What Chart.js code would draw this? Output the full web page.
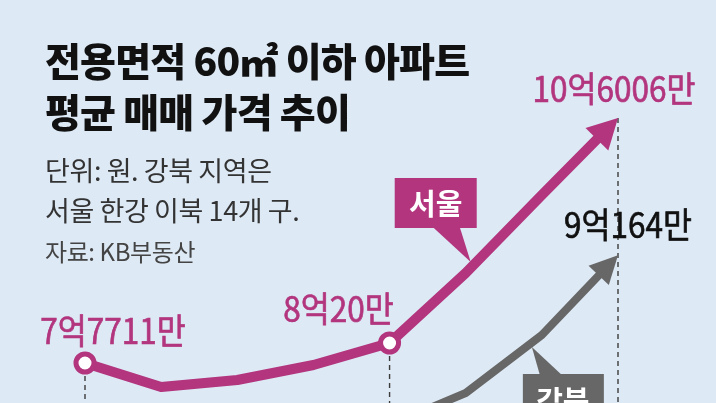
<!DOCTYPE html>
<html><head><meta charset="utf-8">
<script src="https://cdn.jsdelivr.net/npm/chart.js@4.4.1/dist/chart.umd.min.js"></script>
<style>
html,body{margin:0;padding:0;background:#dde9f5;overflow:hidden;}
#wrap{position:relative;width:716px;height:403px;background:#dde9f5;}
#chartBox{position:absolute;left:0;top:0;width:716px;height:403px;}
.t{position:absolute;left:45px;white-space:nowrap;font-family:"Noto Sans CJK KR",sans-serif;}
.h{font-size:39px;line-height:39px;font-weight:800;color:#111;letter-spacing:-0.8px;}
.s{font-size:27px;line-height:27px;color:#333;letter-spacing:-0.4px;}
.src{font-size:24px;line-height:24px;color:#444;letter-spacing:-0.4px;}
</style></head>
<body><div id="wrap">
<div id="chartBox"><canvas id="c"></canvas></div>
<div class="t h" style="top:40px">전용면적 60㎡ 이하 아파트</div>
<div class="t h" style="top:91px">평균 매매 가격 추이</div>
<div class="t s" style="top:156px">단위: 원. 강북 지역은</div>
<div class="t s" style="top:196px">서울 한강 이북 14개 구.</div>
<div class="t src" style="top:239px">자료: KB부동산</div>
</div>
<script>
// ---- data (values in 만원) ----
const periods = ['1','2','3','4','5','6','7','8'];
const seoulValues = [77711, 74940, 75748, 77480, 80020, 88104, 97111, 106006];
const gangbukValues = [68200, 67600, 68400, 69800, 70552, 74247, 80944, 90164];
const seriesNames = ['서울', '강북'];
const labeledSeoul = [0, 4, 7];
const labeledGangbuk = [7];

const SEOUL = '#b2357e';
const GRAY = '#676767';

function fmt(v){
  const eok = Math.floor(v/10000), man = v % 10000;
  return eok + '억' + man + '만';
}

const labelStyle = {
  0: {0:[28,-32], 4:[-51,-34], 7:[-4,-29]},
  1: {7:[10,-30]}
};
const headSize = {0:[30,16], 1:[28,14]};

function headGeom(chart, di){
  const pts = chart.getDatasetMeta(di).data;
  const p2 = pts[pts.length-1], p1 = pts[pts.length-2];
  let ux = p2.x-p1.x, uy = p2.y-p1.y; const len = Math.hypot(ux,uy); ux/=len; uy/=len;
  const nx = -uy, ny = ux;
  const [L,W] = headSize[di];
  return {tip:{x:p2.x,y:p2.y}, ux, uy, nx, ny, L, W};
}

const overlay = {
  id:'overlay',
  beforeDatasetsDraw(chart){
    const ctx = chart.ctx, m = chart.getDatasetMeta(0);
    ctx.save();
    ctx.setLineDash([5,4]); ctx.lineWidth = 1.4; ctx.strokeStyle = '#3c3c3c';
    labeledSeoul.forEach(i=>{
      const p = m.data[i];
      const start = (i === m.data.length-1) ? p.y : p.y + 13;
      ctx.beginPath(); ctx.moveTo(p.x, start); ctx.lineTo(p.x, chart.height); ctx.stroke();
    });
    ctx.restore();
  },
  beforeDatasetDraw(chart, args){
    const g = headGeom(chart, args.index), ctx = chart.ctx;
    const bx = g.tip.x - (g.L-3)*g.ux, by = g.tip.y - (g.L-3)*g.uy;
    ctx.save();
    ctx.beginPath();
    ctx.rect(0,0,chart.width,chart.height);
    ctx.moveTo(bx+25*g.nx, by+25*g.ny);
    ctx.lineTo(bx+25*g.nx+60*g.ux, by+25*g.ny+60*g.uy);
    ctx.lineTo(bx-25*g.nx+60*g.ux, by-25*g.ny+60*g.uy);
    ctx.lineTo(bx-25*g.nx, by-25*g.ny);
    ctx.closePath();
    ctx.clip('evenodd');
  },
  afterDatasetDraw(chart, args){
    const ctx = chart.ctx; ctx.restore();
    const g = headGeom(chart, args.index);
    const bx = g.tip.x - g.L*g.ux, by = g.tip.y - g.L*g.uy;
    ctx.save();
    ctx.fillStyle = args.index === 0 ? SEOUL : GRAY;
    ctx.beginPath();
    ctx.moveTo(g.tip.x, g.tip.y);
    ctx.lineTo(bx + g.W*g.nx, by + g.W*g.ny);
    ctx.lineTo(bx - g.W*g.nx, by - g.W*g.ny);
    ctx.closePath(); ctx.fill();
    ctx.restore();
  },
  afterDatasetsDraw(chart){
    const ctx = chart.ctx;
    // value labels
    const fs = 35;
    [[0,labeledSeoul,SEOUL],[1,labeledGangbuk,'#111']].forEach(([di,idxs,col])=>{
      const m = chart.getDatasetMeta(di), vals = chart.data.datasets[di].data;
      idxs.forEach(i=>{
        const p = m.data[i], off = labelStyle[di][i];
        ctx.save();
        ctx.translate(p.x+off[0], p.y+off[1]);
        ctx.scale(0.9,1);
        ctx.font = fs+'px "Liberation Sans Narrow","Noto Sans CJK KR",sans-serif';
        ctx.fillStyle = col; ctx.strokeStyle = col; ctx.lineWidth = 0.7;
        ctx.textAlign = 'center'; ctx.textBaseline = 'alphabetic';
        ctx.fillText(fmt(vals[i]), 0, 0.36*fs);
        ctx.strokeText(fmt(vals[i]), 0, 0.36*fs);
        ctx.restore();
      });
    });
    // callouts
    function callout(di, idx, box, ptr, tc, col, text){
      const p = chart.getDatasetMeta(di).data[idx];
      ctx.save();
      ctx.fillStyle = col;
      ctx.fillRect(p.x+box[0], p.y+box[1], box[2]-box[0], box[3]-box[1]);
      ctx.beginPath();
      ctx.moveTo(p.x+ptr[0], p.y+ptr[1]);
      ctx.lineTo(p.x+ptr[2], p.y+ptr[3]);
      ctx.lineTo(p.x+ptr[4], p.y+ptr[5]);
      ctx.closePath(); ctx.fill();
      ctx.font = 'bold 29px "Noto Sans CJK KR",sans-serif';
      ctx.fillStyle = '#fff'; ctx.textAlign = 'center'; ctx.textBaseline = 'middle';
      ctx.fillText(text, p.x+tc[0], p.y+tc[1]);
      ctx.restore();
    }
    callout(0, 5, [-71,-95,11,-45], [-33,-46,-6,-46,5,-11], [-30,-69], SEOUL, seriesNames[0]);
    callout(1, 6, [-19,39,62,95], [-2,40,20,40,-10,12], [21,66], GRAY, seriesNames[1]);
  }
};

new Chart(document.getElementById('c'), {
  type:'line',
  data:{
    labels: periods,
    datasets:[
      {label:seriesNames[0], data:seoulValues, borderColor:SEOUL, borderWidth:10, tension:0,
       borderJoinStyle:'round', clip:false,
       pointRadius: ctx => labeledSeoul.slice(0,2).includes(ctx.dataIndex) ? 9 : 0,
       pointBackgroundColor:'#fff', pointBorderColor:SEOUL, pointBorderWidth:5, pointHoverRadius:0},
      {label:seriesNames[1], data:gangbukValues, borderColor:GRAY, borderWidth:8, tension:0,
       borderJoinStyle:'round', clip:false, pointRadius:0}
    ]
  },
  options:{
    responsive:true, maintainAspectRatio:false, animation:false,
    layout:{autoPadding:false, padding:{left:85, right:98, top:0, bottom:0}},
    plugins:{legend:{display:false}, tooltip:{enabled:false}},
    scales:{
      x:{display:false},
      y:{display:false, min:73092, max:119628}
    }
  },
  plugins:[overlay]
});
</script>
</body></html>
